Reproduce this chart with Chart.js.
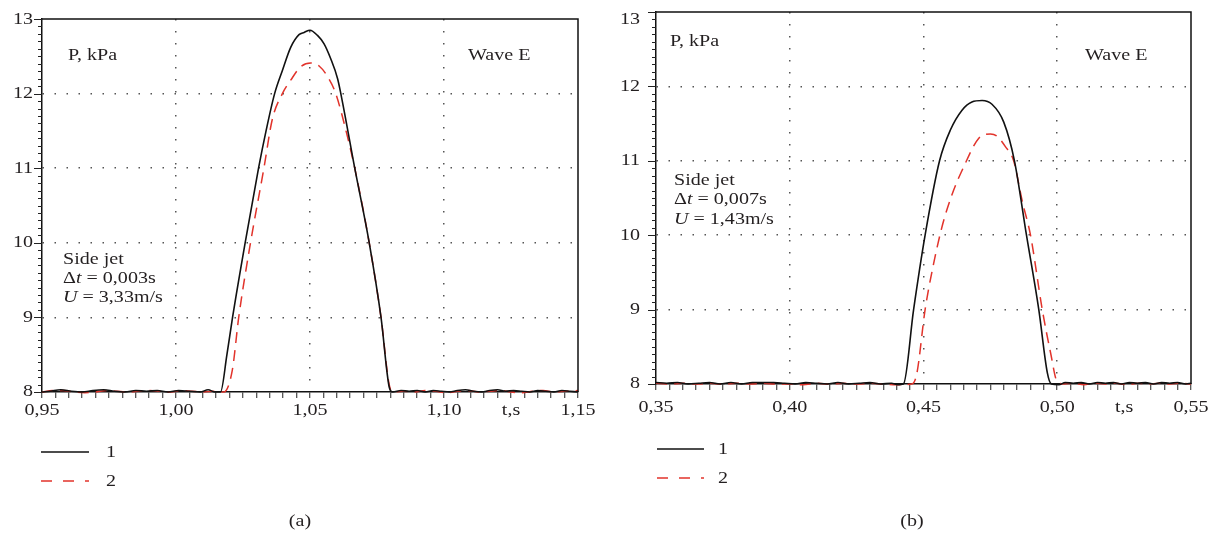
<!DOCTYPE html>
<html lang="en">
<head>
<meta charset="UTF-8" />
<title>Wave E - side jet pressure</title>
<script src="https://cdn.jsdelivr.net/npm/chart.js"></script>
<style>
  html, body { margin: 0; padding: 0; background: #fff; }
  .page { position: relative; width: 1213px; height: 534px; }
  .panel { position: absolute; top: 0; height: 534px; }
  #panelA { left: 0; width: 606px; }
  #panelB { left: 606px; width: 607px; }
</style>
</head>
<body>
<div class="page">
  <div class="panel" id="panelA"><canvas id="chartA"></canvas></div>
  <div class="panel" id="panelB"><canvas id="chartB"></canvas></div>
</div>
<script>
// (a) side jet, dt = 0,003 s -- curve 1 (solid) and curve 2 (dashed)
const tA1 = [0.950, 0.953, 0.957, 0.961, 0.965, 0.969, 0.973, 0.977, 0.981, 0.985, 0.989, 0.993, 0.997,
  1.001, 1.005, 1.009, 1.012, 1.0145, 1.0166, 1.0190, 1.0211, 1.0258, 1.0308, 1.0336, 1.0368, 1.0397,
  1.0428, 1.0459, 1.0478, 1.0500, 1.0528, 1.0552, 1.0577, 1.0603, 1.0615, 1.0667, 1.0721, 1.0765,
  1.0796, 1.0808, 1.084, 1.087, 1.090, 1.093, 1.096, 1.099, 1.102, 1.105, 1.108, 1.111, 1.114, 1.117,
  1.120, 1.123, 1.126, 1.129, 1.132, 1.135, 1.138, 1.141, 1.144, 1.147, 1.150];
const pA1 = [8.00, 8.01, 8.03, 8.01, 8.00, 8.02, 8.03, 8.01, 8.00, 8.02, 8.01, 8.02, 8.00,
  8.02, 8.01, 8.00, 8.03, 8.00, 8.00, 8.50, 9.00, 10.00, 11.00, 11.50, 12.00, 12.31,
  12.62, 12.79, 12.82, 12.85, 12.78, 12.67, 12.47, 12.20, 12.00, 11.00, 10.00, 9.00,
  8.06, 8.00, 8.02, 8.01, 8.02, 8.00, 8.02, 8.01, 8.00, 8.02, 8.03, 8.01, 8.00, 8.02,
  8.03, 8.01, 8.02, 8.01, 8.00, 8.02, 8.01, 8.00, 8.02, 8.01, 8.00];
const tA2 = [0.950, 0.954, 0.958, 0.962, 0.966, 0.970, 0.974, 0.978, 0.982, 0.986, 0.990, 0.994, 0.998,
  1.002, 1.006, 1.010, 1.014, 1.0178, 1.0210, 1.0234, 1.0278, 1.0328, 1.0359, 1.0397, 1.0428, 1.0465,
  1.0503, 1.0534, 1.0565, 1.0596, 1.0640, 1.0667, 1.0721, 1.0765, 1.0798, 1.0813, 1.085, 1.089, 1.093,
  1.097, 1.101, 1.105, 1.109, 1.113, 1.117, 1.121, 1.125, 1.129, 1.133, 1.137, 1.141, 1.145, 1.150];
const pA2 = [8.00, 8.02, 8.02, 8.00, 7.99, 8.00, 8.02, 8.01, 8.00, 8.01, 8.02, 8.01, 8.00,
  8.02, 8.01, 8.00, 8.01, 8.00, 8.29, 9.00, 10.00, 11.00, 11.65, 12.00, 12.18, 12.36,
  12.41, 12.37, 12.23, 12.00, 11.42, 11.00, 10.00, 9.00, 8.06, 8.00, 8.01, 8.00, 8.02,
  8.01, 7.99, 8.01, 8.02, 8.00, 8.01, 8.02, 8.00, 7.99, 8.01, 8.02, 8.00, 8.01, 8.02];

// (b) side jet, dt = 0,007 s
const tB1 = [0.350, 0.354, 0.358, 0.362, 0.366, 0.370, 0.374, 0.378, 0.382, 0.386, 0.390, 0.394, 0.398,
  0.402, 0.406, 0.410, 0.414, 0.418, 0.422, 0.426, 0.430, 0.434, 0.438, 0.4405, 0.4425, 0.4463, 0.4506,
  0.4560, 0.4600, 0.4644, 0.4681, 0.4719, 0.4756, 0.4800, 0.4840, 0.4885, 0.4931, 0.4963, 0.4978,
  0.5006, 0.503, 0.506, 0.509, 0.512, 0.515, 0.518, 0.521, 0.524, 0.527, 0.530, 0.533, 0.536, 0.539,
  0.542, 0.545, 0.548, 0.550];
const pB1 = [8.02, 8.01, 8.02, 8.00, 8.01, 8.02, 8.00, 8.02, 8.00, 8.02, 8.02, 8.02, 8.01,
  8.00, 8.02, 8.01, 8.00, 8.02, 8.00, 8.01, 8.02, 8.00, 8.01, 7.99, 8.00, 9.00, 10.00,
  11.00, 11.41, 11.68, 11.79, 11.81, 11.76, 11.52, 11.00, 10.00, 9.00, 8.15, 8.00,
  7.99, 8.02, 8.01, 8.02, 8.00, 8.02, 8.01, 8.02, 8.00, 8.02, 8.01, 8.02, 8.00, 8.02,
  8.01, 8.02, 8.00, 8.01];
const tB2 = [0.350, 0.355, 0.360, 0.365, 0.370, 0.375, 0.380, 0.385, 0.390, 0.395, 0.400, 0.405, 0.410,
  0.415, 0.420, 0.425, 0.430, 0.435, 0.440, 0.4456, 0.4475, 0.4506, 0.4538, 0.4569, 0.4606, 0.4653,
  0.4706, 0.4750, 0.4775, 0.4806, 0.4837, 0.4869, 0.4900, 0.4944, 0.4975, 0.5000, 0.5025, 0.506,
  0.510, 0.514, 0.518, 0.522, 0.526, 0.530, 0.534, 0.538, 0.542, 0.546, 0.550];
const pB2 = [8.01, 8.00, 8.01, 8.00, 8.01, 8.00, 8.01, 8.00, 8.01, 8.00, 8.00, 7.99, 8.01,
  8.00, 8.01, 8.00, 8.01, 8.00, 7.99, 8.00, 8.14, 9.00, 9.62, 10.11, 10.54, 10.94,
  11.30, 11.36, 11.33, 11.19, 11.00, 10.46, 10.00, 9.00, 8.42, 8.03, 8.00, 8.01,
  7.99, 8.01, 8.00, 8.01, 7.99, 8.01, 8.00, 8.01, 8.00, 8.01, 8.00];

const seriesNames = ['1', '2'];
const xTicksA = [0.95, 1.00, 1.05, 1.10, 1.125, 1.15];
const xLabelsA = ['0,95', '1,00', '1,05', '1,10', 't,s', '1,15'];
const xGridA = [1.00, 1.05, 1.10];
const xTicksB = [0.35, 0.40, 0.45, 0.50, 0.525, 0.55];
const xLabelsB = ['0,35', '0,40', '0,45', '0,50', 't,s', '0,55'];
const xGridB = [0.40, 0.45, 0.50];
const yTicks = [8, 9, 10, 11, 12, 13];
const yLabels = ['8', '9', '10', '11', '12', '13'];
const yGrid = [9, 10, 11, 12];

const FONT = '"Liberation Serif", "Times New Roman", serif';
const SIZE = 17;
const SX = 1.18;   // the source figure is a bit wide, so text is stretched too
const INK = '#231f20';
const RED = '#e2332b';

const pts = (t, p) => t.map((x, i) => ({ x, y: p[i] }));
const near = (a, b) => Math.abs(a - b) < 1e-6;
const steps = (from, to, step) => {
  const out = [];
  const n = Math.round((to - from) / step);
  for (let i = 0; i <= n; i++) out.push(+(from + i * step).toFixed(4));
  return out;
};

function drawText(ctx, txt, x, y, align, italic) {
  ctx.save();
  ctx.font = (italic ? 'italic ' : '') + SIZE + 'px ' + FONT;
  const w = ctx.measureText(txt).width * SX;
  const left = align === 'center' ? x - w / 2 : align === 'right' ? x - w : x;
  ctx.translate(left, y);
  ctx.scale(SX, 1);
  ctx.textAlign = 'left';
  ctx.fillText(txt, 0, 0);
  ctx.restore();
  return w;
}

// frame, y tick marks, tick labels, notes, legend and caption
function makeFrame(p) {
  return {
    id: 'frame',
    afterDraw(chart) {
      const { ctx, chartArea: a, scales: { x, y } } = chart;
      ctx.save();
      ctx.strokeStyle = '#111';
      ctx.lineWidth = 1.5;
      ctx.beginPath();
      ctx.moveTo(a.left, a.top);
      ctx.lineTo(a.right, a.top);
      ctx.lineTo(a.right, a.bottom);
      ctx.stroke();

      // y tick marks: short every 0.1, long on whole kPa
      ctx.strokeStyle = '#222';
      ctx.lineWidth = 1;
      steps(8, 13, 0.1).forEach(v => {
        const py = Math.round(y.getPixelForValue(v)) + 0.5;
        const len = yTicks.some(u => near(u, v)) ? 8 : 4;
        ctx.beginPath();
        ctx.moveTo(a.left - len, py);
        ctx.lineTo(a.left, py);
        ctx.stroke();
      });

      ctx.fillStyle = INK;
      ctx.textBaseline = 'middle';
      p.xTicks.forEach((v, i) => {
        drawText(ctx, p.xLabels[i], x.getPixelForValue(v), a.bottom + p.xLabDy, 'center');
      });
      yTicks.forEach((v, i) => {
        const dy = i === yTicks.length - 1 ? p.topLabDy : 0;
        drawText(ctx, yLabels[i], a.left - p.yLabGap, y.getPixelForValue(v) + dy, 'right');
      });

      ctx.textBaseline = 'alphabetic';
      p.notes.forEach(n => {
        let cx = n.x;
        n.parts.forEach(([txt, it]) => { cx += drawText(ctx, txt, cx, n.y, 'left', it); });
      });

      // legend
      const lg = p.legend;
      ctx.textBaseline = 'middle';
      [{ c: '#111', d: [], y: lg.y1 }, { c: RED, d: [11, 11], y: lg.y2 }].forEach((e, i) => {
        ctx.strokeStyle = e.c;
        ctx.lineWidth = 1.5;
        ctx.setLineDash(e.d);
        ctx.beginPath();
        ctx.moveTo(lg.x0, e.y);
        ctx.lineTo(lg.x1, e.y);
        ctx.stroke();
        ctx.setLineDash([]);
        drawText(ctx, seriesNames[i], lg.lx, e.y + 1, 'left');
      });

      drawText(ctx, p.caption, p.capX, p.capY, 'center');
      ctx.restore();
    }
  };
}

function drawPanel(id, p) {
  new Chart(document.getElementById(id), {
    type: 'line',
    data: {
      datasets: [
        { label: seriesNames[0], data: pts(p.t1, p.p1), borderColor: '#111', borderWidth: 1.6, clip: 4 },
        { label: seriesNames[1], data: pts(p.t2, p.p2), borderColor: RED, borderWidth: 1.5, borderDash: [11, 7], clip: 4 }
      ]
    },
    options: {
      responsive: true,
      maintainAspectRatio: false,
      animation: false,
      events: [],
      elements: {
        point: { radius: 0 },
        line: { cubicInterpolationMode: 'monotone', fill: false }
      },
      layout: { padding: p.pad },
      plugins: { legend: { display: false }, tooltip: { enabled: false } },
      scales: {
        x: {
          type: 'linear',
          min: p.xMin,
          max: p.xMax,
          afterFit: s => { s.height = p.xAxisH; },
          afterBuildTicks: s => { s.ticks = steps(p.xMin, p.xMax, 0.005).map(value => ({ value })); },
          ticks: { display: false },
          grid: {
            color: c => (c.tick && p.xGrid.some(u => near(u, c.tick.value))) ? '#555' : 'rgba(0,0,0,0)',
            lineWidth: 1.5,
            tickLength: 6,
            tickColor: '#222',
            tickWidth: 1
          },
          border: { color: '#111', width: 1.5, dash: [1.5, 10.5] }
        },
        y: {
          min: 8,
          max: 13,
          afterFit: s => { s.width = p.yAxisW; },
          afterBuildTicks: s => { s.ticks = steps(8, 13, 0.1).map(value => ({ value })); },
          ticks: { display: false },
          grid: {
            color: c => (c.tick && yGrid.some(u => near(u, c.tick.value))) ? '#555' : 'rgba(0,0,0,0)',
            lineWidth: 1.5,
            drawTicks: false
          },
          border: { color: '#111', width: 1.5, dash: [1.5, 10.5] }
        }
      }
    },
    plugins: [makeFrame(p)]
  });
}

drawPanel('chartA', {
  t1: tA1, p1: pA1, t2: tA2, p2: pA2,
  xMin: 0.95, xMax: 1.15, xTicks: xTicksA, xLabels: xLabelsA, xGrid: xGridA,
  pad: { top: 19, right: 28, left: 0, bottom: 0 },
  yAxisW: 42, xAxisH: 142, xLabDy: 19, yLabGap: 9, topLabDy: 1,
  notes: [
    { x: 68, y: 60, parts: [['P, kPa', false]] },
    { x: 468, y: 60, parts: [['Wave E', false]] },
    { x: 63, y: 264, parts: [['Side jet', false]] },
    { x: 63, y: 283, parts: [['\u0394', false], ['t', true], [' = 0,003s', false]] },
    { x: 63, y: 302, parts: [['U', true], [' = 3,33m/s', false]] }
  ],
  legend: { x0: 41, x1: 89, lx: 106, y1: 452, y2: 481 },
  caption: '(a)', capX: 300, capY: 522
});

drawPanel('chartB', {
  t1: tB1, p1: pB1, t2: tB2, p2: pB2,
  xMin: 0.35, xMax: 0.55, xTicks: xTicksB, xLabels: xLabelsB, xGrid: xGridB,
  pad: { top: 12, right: 22, left: 0, bottom: 0 },
  yAxisW: 50, xAxisH: 150, xLabDy: 24, yLabGap: 16, topLabDy: 8,
  notes: [
    { x: 64, y: 46, parts: [['P, kPa', false]] },
    { x: 479, y: 60, parts: [['Wave E', false]] },
    { x: 68, y: 185, parts: [['Side jet', false]] },
    { x: 68, y: 204, parts: [['\u0394', false], ['t', true], [' = 0,007s', false]] },
    { x: 68, y: 224, parts: [['U', true], [' = 1,43m/s', false]] }
  ],
  legend: { x0: 51, x1: 98, lx: 112, y1: 449, y2: 478 },
  caption: '(b)', capX: 306, capY: 522
});
</script>
</body>
</html>
